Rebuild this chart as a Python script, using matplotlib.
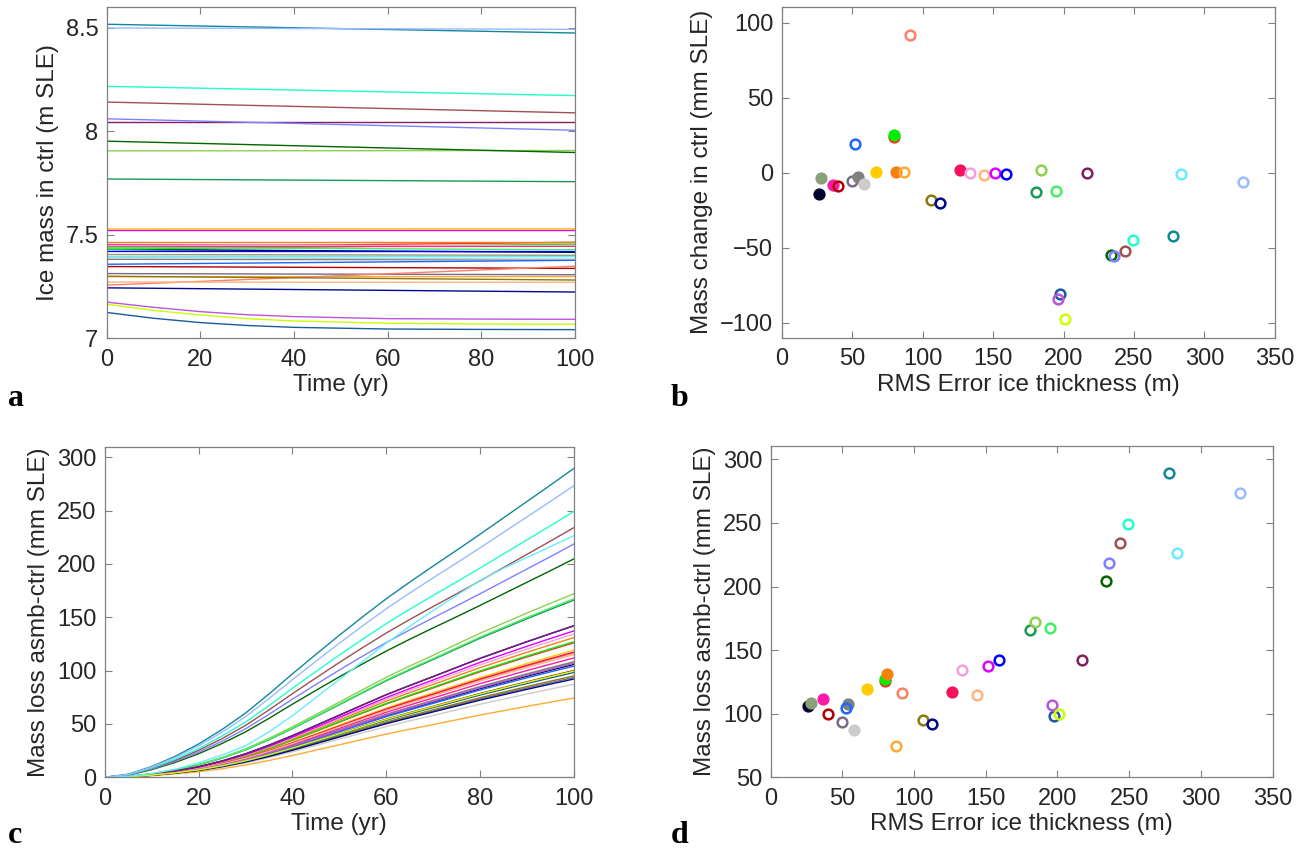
import numpy as np
import matplotlib
matplotlib.use('Agg')
import matplotlib.pyplot as plt
from matplotlib.ticker import FormatStrFormatter

plt.rcParams['font.family'] = ['Liberation Sans', 'DejaVu Sans']

# one entry per model
colors = ['#03032e', '#8aa07a', '#ff1aa8', '#b00000', '#7a6a8a', '#7f7f7f', '#cccccc', '#1a66ff',
          '#ffcc00', '#ff2a2a', '#00ee00', '#f58210', '#ffaa33', '#ff8066', '#8a7a10', '#000a8a',
          '#f5125a', '#f5a0dc', '#ffb480', '#dd00ff', '#0000ff', '#1a9955', '#8fd14f', '#44ee66',
          '#802060', '#1a5aa0', '#bb55dd', '#ccff00', '#006600', '#8080ff', '#a05050', '#22ffcc',
          '#108899', '#66eeff', '#99bbff']
filled = [1, 1, 1, 0, 0, 1, 1, 0,
          1, 1, 1, 1, 0, 0, 0, 0,
          1, 0, 0, 0, 0, 0, 0, 0,
          0, 0, 0, 0, 0, 0, 0, 0,
          0, 0, 0]
rms = [26.4, 27.9, 36.4, 40.2, 49.8, 54.3, 58.3, 52.4,
       67.1, 79.6, 79.5, 81.4, 87.1, 91.4, 106.0, 112.4,
       126.2, 133.3, 143.8, 151.4, 159.0, 180.7, 184.0, 194.8,
       216.9, 197.6, 196.2, 201.4, 233.8, 236.0, 243.8, 249.3,
       277.9, 283.6, 327.4]
ctrl_change = [-14.4, -3.6, -8.0, -8.9, -5.6, -2.9, -7.1, 19.1,
               0.9, 24.0, 25.3, 0.4, 0.4, 91.6, -18.2, -20.2,
               1.8, 0.0, -1.3, 0.0, -0.7, -12.9, 1.8, -12.0,
               0.0, -80.4, -84.0, -97.6, -54.9, -55.3, -52.2, -44.7,
               -42.2, -0.7, -6.4]
asmb_loss = [105.8, 108.4, 111.8, 100.0, 93.5, 107.9, 87.2, 104.2,
             119.1, 126.0, 127.0, 130.9, 74.3, 116.5, 95.0, 92.1,
             117.3, 134.3, 114.9, 137.2, 141.9, 166.0, 172.0, 167.3,
             142.1, 98.2, 106.8, 99.5, 204.7, 218.6, 234.0, 249.2,
             289.5, 226.4, 273.3]
# ice mass in ctrl at year 0 (m SLE)
mass_start = [7.430, 7.405, 7.453, 7.347, 7.313, 7.382, 7.390, 7.358,
              7.529, 7.440, 7.430, 7.463, 7.298, 7.257, 7.300, 7.244,
              7.443, 7.450, 7.272, 7.522, 7.420, 7.770, 7.906, 7.440,
              8.044, 7.125, 7.175, 7.165, 7.953, 8.061, 8.142, 8.218,
              8.518, 7.395, 8.500]
# which loss-curve shape each model follows (0 fast, 1 slow, 2 late)
shape_id = [1, 1, 1, 1, 1, 1, 1, 1,
            1, 1, 1, 1, 1, 1, 1, 1,
            1, 1, 1, 1, 1, 1, 1, 1,
            1, 1, 1, 1, 0, 0, 0, 0,
            0, 2, 0]

# ctrl runs that are not linear drifts (read at these years)
curved_years = [0, 10, 20, 30, 40, 60, 80, 100]
curved_mass = {
    25: [7.125, 7.097, 7.076, 7.062, 7.053, 7.045, 7.043, 7.042],
    26: [7.175, 7.150, 7.129, 7.114, 7.105, 7.095, 7.093, 7.092],
    27: [7.165, 7.135, 7.113, 7.095, 7.084, 7.073, 7.069, 7.068],
}

# fraction of year-100 loss reached, read every 5 years
years = np.arange(0, 101, 5)
loss_shapes = [
    [0, 0.010, 0.035, 0.068, 0.108, 0.155, 0.208, 0.270, 0.335, 0.398, 0.460,
     0.520, 0.578, 0.632, 0.684, 0.735, 0.787, 0.840, 0.893, 0.946, 1.0],
    [0, 0.005, 0.020, 0.042, 0.070, 0.108, 0.155, 0.212, 0.275, 0.342, 0.410,
     0.478, 0.545, 0.606, 0.665, 0.725, 0.785, 0.840, 0.895, 0.948, 1.0],
    [0, 0.004, 0.015, 0.033, 0.060, 0.092, 0.130, 0.188, 0.255, 0.330, 0.405,
     0.480, 0.555, 0.625, 0.690, 0.753, 0.815, 0.865, 0.910, 0.955, 1.0],
]

fig = plt.figure(figsize=(13.06, 8.49), dpi=100)
ax_a = fig.add_axes([0.0817, 0.6015, 0.3586, 0.3899])
ax_b = fig.add_axes([0.5985, 0.6019, 0.3777, 0.3902])
ax_c = fig.add_axes([0.0804, 0.0845, 0.3589, 0.3894])
ax_d = fig.add_axes([0.5900, 0.0845, 0.3845, 0.3902])

n = len(colors)

# a: ice mass in ctrl
for i in range(n):
    if i in curved_mass:
        ax_a.plot(curved_years, curved_mass[i], color=colors[i], lw=1.0)
    else:
        end = mass_start[i] + ctrl_change[i] / 1000
        ax_a.plot([0, 100], [mass_start[i], end], color=colors[i], lw=1.0)
ax_a.set_xlim(0, 100)
ax_a.set_ylim(7, 8.6)
ax_a.set_xticks(range(0, 101, 20))
ax_a.set_yticks([7, 7.5, 8, 8.5])
ax_a.yaxis.set_major_formatter(FormatStrFormatter('%g'))
ax_a.set_xlabel('Time (yr)')
ax_a.set_ylabel('Ice mass in ctrl (m SLE)')

# c: mass loss asmb-ctrl
for i in range(n):
    ax_c.plot(years, np.array(loss_shapes[shape_id[i]]) * asmb_loss[i], color=colors[i], lw=1.0)
ax_c.set_xlim(0, 100)
ax_c.set_ylim(0, 310)
ax_c.set_xticks(range(0, 101, 20))
ax_c.set_yticks(range(0, 301, 50))
ax_c.set_xlabel('Time (yr)')
ax_c.set_ylabel('Mass loss asmb-ctrl (mm SLE)')

# b, d: scatter against RMS error
for ax, vals in [(ax_b, ctrl_change), (ax_d, asmb_loss)]:
    for i in range(n):
        face = colors[i] if filled[i] else 'none'
        ax.plot(rms[i], vals[i], 'o', ms=7, mew=1.8, mec=colors[i], mfc=face)
    ax.set_xlim(0, 350)
    ax.set_xticks(range(0, 351, 50))
    ax.set_xlabel('RMS Error ice thickness (m)')
ax_b.set_ylim(-110, 110.7)
ax_b.set_yticks(range(-100, 101, 50))
ax_b.set_ylabel('Mass change in ctrl (mm SLE)')
ax_d.set_ylim(50, 310.5)
ax_d.set_yticks(range(50, 301, 50))
ax_d.set_ylabel('Mass loss asmb-ctrl (mm SLE)')

for ax in [ax_a, ax_b, ax_c, ax_d]:
    for s in ax.spines.values():
        s.set_color('#808080')
        s.set_linewidth(0.9)
    ax.tick_params(direction='in', top=True, right=True, length=5, width=0.8,
                   color='#808080', labelsize=17, labelcolor='#262626')
    ax.tick_params(axis='x', pad=7.5)
    ax.tick_params(axis='y', pad=6)
    ax.xaxis.label.set_size(17.5)
    ax.yaxis.label.set_size(17.5)
    ax.xaxis.label.set_color('#262626')
    ax.yaxis.label.set_color('#262626')
    ax.xaxis.labelpad = 2.5
    ax.yaxis.labelpad = 5

for lab, x, y in [('a', 8, 406), ('b', 671, 406), ('c', 8, 843), ('d', 671, 843)]:
    fig.text(x / 1306, 1 - y / 849, lab, family='Liberation Serif', weight='bold', fontsize=23,
             ha='left', va='baseline')

fig.savefig('out.png', dpi=100)
